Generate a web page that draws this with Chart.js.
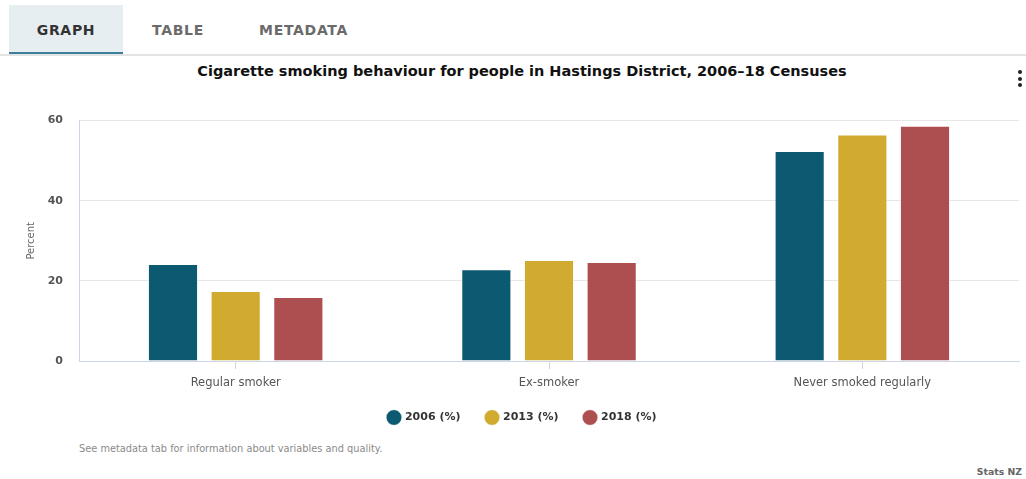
<!DOCTYPE html>
<html>
<head>
<meta charset="utf-8">
<script src="https://cdn.jsdelivr.net/npm/chart.js@4"></script>
<style>
  body { margin: 0; width: 1026px; height: 479px; background: #fff; font-family: "DejaVu Sans", sans-serif; position: relative; overflow: hidden; }
  .tabs { position: absolute; left: 0; top: 0; width: 1026px; height: 56px; border-bottom: 2px solid #e4e4e4; box-sizing: border-box; }
  .tab { position: absolute; top: 5px; height: 49px; line-height: 50px; font-size: 14px; font-weight: 600; color: #6b6b6b; letter-spacing: 0.7px; }
  .tab.active { left: 9px; width: 114px; background: #e6eef1; color: #333; text-align: center; border-bottom: 2px solid #3d7f99; box-sizing: border-box; }
  #title { position: absolute; top: 63px; left: 0; width: 1044px; text-align: center; font-size: 14.5px; font-weight: 700; color: #111; }
  .dots { position: absolute; left: 1018px; top: 70px; width: 4px; }
  .dots span { display: block; width: 4px; height: 4px; border-radius: 2px; background: #222; margin-bottom: 2.5px; }
  #wrap { position: absolute; left: 0; top: 98px; width: 1026px; height: 342px; }
  .note { position: absolute; left: 79px; top: 443px; font-size: 9.8px; color: #8a8a8a; }
  .src { position: absolute; right: 4px; top: 466px; font-size: 9.3px; color: #666; font-weight: 600; }
</style>
</head>
<body>
<div class="tabs">
  <div class="tab active">GRAPH</div>
  <div class="tab" style="left:152px">TABLE</div>
  <div class="tab" style="left:259px">METADATA</div>
</div>
<div id="title">Cigarette smoking behaviour for people in Hastings District, 2006–18 Censuses</div>
<div class="dots"><span></span><span></span><span></span></div>
<div id="wrap"><canvas id="chart"></canvas></div>
<div class="note">See metadata tab for information about variables and quality.</div>
<div class="src">Stats NZ</div>
<script>
const categories = ['Regular smoker', 'Ex-smoker', 'Never smoked regularly'];
const seriesNames = ['2006 (%)', '2013 (%)', '2018 (%)'];
const values2006 = [24.2, 22.9, 52.4];
const values2013 = [17.5, 25.2, 56.5];
const values2018 = [16.0, 24.7, 58.7];
const yTicks = [0, 20, 40, 60];

const colors = ['#0b5a72', '#d1aa30', '#ad4e50'];
const fontFamily = 'DejaVu Sans';

// legend padding is used for both item spacing and height, so pull it up a bit
const legendNudge = {
    id: 'legendNudge',
    afterLayout(chart) {
        chart.legend.top -= 7;
        chart.legend.bottom -= 7;
    }
};

const ctx = document.getElementById('chart').getContext('2d');
new Chart(ctx, {
    type: 'bar',
    data: {
        labels: categories,
        datasets: [values2006, values2013, values2018].map((vals, i) => ({
            label: seriesNames[i],
            data: vals,
            backgroundColor: colors[i],
            borderColor: 'rgba(255,255,255,0.5)',
            borderWidth: 1,
            categoryPercentage: 0.6,
            barPercentage: 0.8
        }))
    },
    options: {
        responsive: true,
        maintainAspectRatio: false,
        animation: false,
        layout: { padding: { top: 0, right: 7, left: 26, bottom: 0 } },
        scales: {
            x: {
                grid: { display: true, drawOnChartArea: false, offset: false, tickLength: 8, color: '#ccd6eb' },
                border: { color: '#ccd6eb' },
                ticks: { color: '#555', font: { family: fontFamily, size: 11.5 }, padding: 7 },
                afterFit(scale) { scale.height = 32; }
            },
            y: {
                min: 0,
                max: 60,
                afterBuildTicks(scale) { scale.ticks = yTicks.map(v => ({ value: v })); },
                grid: { color: '#e6e6e6', drawTicks: false },
                border: { display: true, color: '#ccd6eb' },
                ticks: { color: '#555', font: { family: fontFamily, size: 11, weight: '600' }, padding: 16 },
                title: { display: true, text: 'Percent', color: '#666', font: { family: fontFamily, size: 10 }, padding: { top: -1, bottom: 0 } },
                afterFit(scale) { scale.width = 53; }
            }
        },
        plugins: {
            legend: {
                position: 'bottom',
                labels: {
                    usePointStyle: true,
                    pointStyle: 'circle',
                    boxWidth: 11,
                    boxHeight: 11,
                    padding: 26,
                    color: '#333',
                    font: { family: fontFamily, size: 11, weight: '700' }
                }
            },
            tooltip: { enabled: false }
        }
    },
    plugins: [legendNudge]
});
</script>
</body>
</html>
